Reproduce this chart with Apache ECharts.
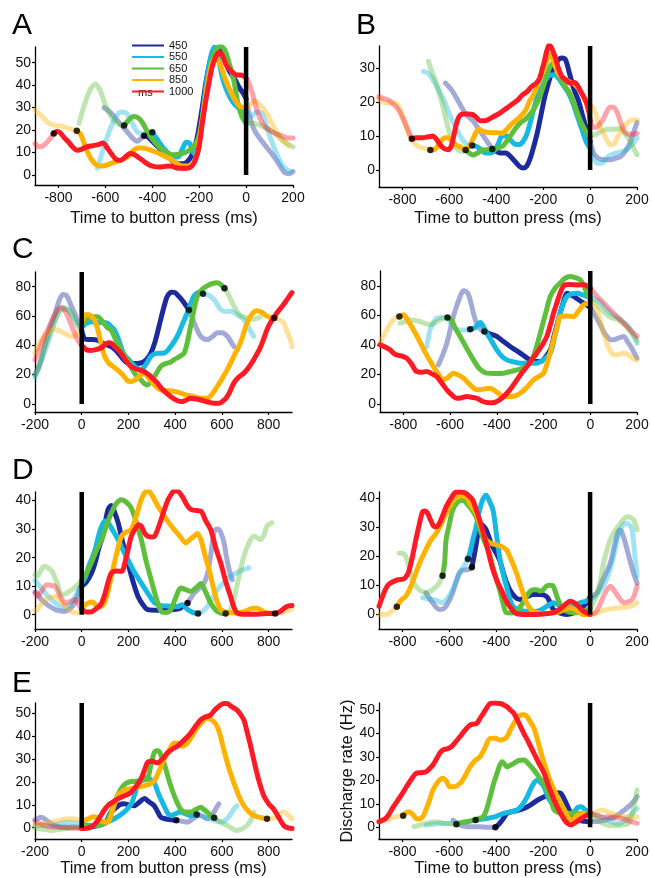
<!DOCTYPE html>
<html><head><meta charset="utf-8">
<script src="https://cdn.jsdelivr.net/npm/echarts@6/dist/echarts.min.js"></script>
<style>html,body{margin:0;padding:0;background:#fff}#c{width:652px;height:878px}</style>
</head><body><div id="c"></div>
<script>
// ---------- tick labels ----------
const ticksToPress = [-800,-600,-400,-200,0,200];
const ticksFromPress = [-200,0,200,400,600,800];
const yTicksA = [0,10,20,30,40,50];
const yTicksB = [0,10,20,30];
const yTicksC = [0,20,40,60,80];
const yTicksD = [0,10,20,30,40];
const yTicksE = [0,10,20,30,40,50];
const durations = ['450','550','650','850','1000'];

// ---------- Panel A ----------
const A_b_pre = [[-605,30],[-580,28],[-555,25],[-530,22],[-505,19],[-485,16.5],[-465,15],[-450,16],[-435,17.5]];
const A_b = [[-435,17.5],[-420,17],[-400,15],[-370,12],[-340,9],[-310,6],[-290,5],[-270,5],[-250,6],[-230,9],[-210,16],[-190,28],[-170,42],[-150,52],[-130,56],[-110,56],[-90,51],[-70,46],[-50,43],[-30,39],[-10,36],[0,34]];
const A_b_post = [[0,34],[15,26],[35,20],[60,16],[90,12],[120,8],[145,4],[165,1],[185,0.5],[200,1.5]];
const A_c_pre = [[-634,3],[-610,11],[-585,19],[-560,25],[-535,28],[-510,27.5],[-490,24],[-470,20],[-450,18.5],[-425,18.5],[-400,19]];
const A_c = [[-400,19],[-380,16],[-360,13],[-335,10],[-310,8],[-290,8],[-270,12],[-255,14.5],[-240,14],[-225,10],[-210,9],[-198,15],[-185,27],[-168,42],[-150,53],[-135,57],[-120,53],[-100,43],[-80,37],[-60,33],[-40,30.5],[-20,29],[0,28]];
const A_c_post = [[0,28],[20,26],[45,28],[70,27],[95,19],[120,12],[145,6],[165,3],[190,1.5]];
const A_g_pre = [[-712,23],[-690,31],[-665,38],[-642,40.5],[-620,37],[-600,31],[-575,26],[-550,23],[-520,22]];
const A_g = [[-520,22],[-500,24.5],[-480,26],[-460,25.5],[-440,23],[-420,19],[-400,16],[-380,13.5],[-360,11.5],[-335,9.8],[-310,9],[-280,9.3],[-250,10.5],[-225,12.5],[-205,16],[-190,23],[-175,33],[-160,43.5],[-145,51],[-130,55.5],[-110,57.5],[-90,55.5],[-70,49],[-52,42],[-35,32],[-18,26],[0,23]];
const A_g_post = [[0,23],[30,23],[60,22],[100,20],[130,18],[160,15],[200,12.5]];
const A_o_pre = [[-900,29],[-870,26],[-840,23],[-810,22],[-780,21.5],[-750,20.5],[-722,19.7]];
const A_o = [[-722,19.7],[-705,18],[-690,14],[-675,10],[-660,7],[-645,5],[-625,4],[-600,4.2],[-575,5.2],[-550,6],[-525,7],[-500,8.5],[-480,11],[-460,12],[-440,12],[-410,11.2],[-380,10],[-350,8.5],[-320,7],[-295,5],[-270,4],[-240,4],[-220,6],[-205,12],[-190,22],[-175,33],[-160,43],[-145,50],[-128,52],[-110,49],[-90,43],[-70,38],[-50,34],[-30,31],[-10,30],[0,30]];
const A_o_post = [[0,30],[15,31],[35,33],[60,31],[85,28],[110,23],[135,18],[160,15],[180,13]];
const A_r_pre = [[-900,14],[-885,12.5],[-865,13],[-845,15],[-830,17],[-820,18.5]];
const A_r = [[-820,18.5],[-805,19.5],[-790,18.5],[-775,16.5],[-760,15],[-740,12.5],[-720,11],[-700,11.5],[-680,12.5],[-655,13],[-630,13.5],[-610,14.2],[-595,12.5],[-575,9.5],[-555,7],[-535,6.5],[-515,8],[-495,9.5],[-475,9],[-455,7.5],[-435,6],[-415,4.5],[-395,3.8],[-370,3.5],[-345,3.8],[-320,4],[-300,3.2],[-275,3],[-250,3],[-230,4],[-215,7],[-200,13],[-188,22],[-175,31],[-160,40],[-145,48],[-130,52.5],[-115,54.5],[-100,53],[-85,49],[-70,47],[-55,45.5],[-40,44.5],[-25,44.5],[-10,44],[0,43]];
const A_r_post = [[0,43],[12,41],[25,37],[40,31],[60,25],[80,21.5],[100,20],[125,18.5],[150,17.5],[175,16.5],[200,16.5]];
const A_dots = [[-820,18.5],[-722,19.7],[-520,22],[-435,17.5],[-400,19]];

// ---------- Panel B ----------
const B_b_pre = [[-617,25.6],[-590,23.5],[-560,20],[-530,16.5],[-500,14.5],[-470,11.5],[-445,9],[-430,7.5],[-417,6.2]];
const B_b = [[-417,6.2],[-400,5.5],[-380,5],[-360,5],[-340,4],[-320,2.5],[-300,1],[-285,0.6],[-270,1.2],[-255,3.5],[-240,7],[-225,11],[-210,16],[-195,21],[-180,25],[-165,28.5],[-150,31],[-135,32.5],[-120,33],[-105,32.5],[-90,29],[-70,24],[-50,20.5],[-30,15.5],[-15,12],[0,8.5]];
const B_b_post = [[0,8.5],[15,5],[35,3.5],[60,3],[85,3],[110,3.5],[130,4],[150,5.5],[170,8],[185,11],[200,14]];
const B_c_pre = [[-710,29],[-690,28.5],[-665,26],[-645,23.5],[-620,20],[-600,16.5],[-580,13.5],[-560,10.8],[-540,8.5],[-520,7.5],[-503,7.2]];
const B_c = [[-503,7.2],[-485,7],[-465,6],[-445,5],[-425,5],[-405,6],[-390,8],[-375,10],[-355,10],[-335,8.5],[-315,7.5],[-300,7.5],[-285,8.5],[-270,10.5],[-255,14],[-240,18],[-225,21.5],[-205,24.5],[-185,27],[-165,28],[-150,28],[-135,27],[-115,25],[-95,23],[-75,20],[-55,16],[-35,12],[-15,8],[0,6.5]];
const B_c_post = [[0,6.5],[15,3.5],[30,2],[50,2],[70,3.5],[90,4.5],[115,5],[140,5.5],[165,6.5],[185,8],[200,9.5]];
const B_g_pre = [[-689,32],[-675,29],[-660,26.5],[-645,23],[-630,19.5],[-615,15],[-600,11],[-585,8],[-570,6.5],[-550,5.5],[-531,5.9]];
const B_g = [[-531,5.9],[-515,5],[-500,4.4],[-480,5],[-460,5.9],[-440,6],[-417,6],[-395,6.5],[-374,7],[-355,8.5],[-335,10.5],[-315,12.5],[-295,14],[-275,15],[-255,16.5],[-235,18.5],[-215,21.5],[-200,24.5],[-185,28],[-170,30.5],[-158,31.5],[-145,30],[-130,27.5],[-110,25],[-90,23],[-74,20.6],[-55,17],[-35,13.5],[-15,11],[0,9.8]];
const B_g_post = [[0,9.8],[25,10.5],[50,11.5],[75,12],[100,12],[126,12.3],[145,11],[169,8.8],[185,6.5],[200,4.5]];
const B_o_pre = [[-900,21],[-874,19.7],[-845,19.8],[-825,19.5],[-803,16.7],[-788,13.5],[-774,10.8],[-760,8.8],[-746,7.6],[-725,6.7],[-703,6.4],[-681,5.9]];
const B_o = [[-681,5.9],[-665,6],[-650,7],[-635,8.5],[-620,9.5],[-605,9.5],[-590,8.5],[-575,7.5],[-560,7],[-545,6.5],[-530,6.2],[-515,7],[-500,9],[-487,11],[-474,12],[-460,11.5],[-446,11.2],[-420,11],[-395,11],[-374,10.8],[-355,12],[-331,13.8],[-300,15.5],[-274,17.7],[-260,20],[-246,21.6],[-230,24],[-217,26.5],[-200,29.5],[-185,32],[-172,34],[-160,33],[-145,30],[-130,28],[-110,27],[-90,26],[-70,25.5],[-50,24],[-30,22],[-15,20],[0,19]];
const B_o_post = [[0,19],[15,18],[35,14],[55,11],[70,9],[85,7.5],[100,7.5],[115,9.5],[135,12],[160,14],[185,14.8],[200,14.7]];
const B_r_pre = [[-900,21.6],[-880,21],[-860,20.6],[-840,19.5],[-817,17.7],[-800,15.5],[-789,13.8],[-775,11.5],[-760,9.2]];
const B_r = [[-760,9.2],[-740,9.5],[-715,9.5],[-690,9.8],[-670,10],[-655,9],[-640,7.5],[-620,6.2],[-603,6],[-590,7.5],[-580,10.5],[-570,13.5],[-558,15.8],[-540,16.5],[-520,16.5],[-500,16.3],[-485,15.5],[-470,14.5],[-450,14.5],[-430,15],[-410,15.8],[-390,16.5],[-370,17.5],[-350,18.5],[-330,19.5],[-310,20.5],[-290,22],[-270,23],[-250,24.5],[-230,25.5],[-215,27],[-205,29.5],[-195,32],[-185,35],[-175,36.8],[-165,36],[-150,33.5],[-135,30],[-120,27.5],[-103,26.5],[-85,25.5],[-70,25.8],[-55,25],[-35,22.5],[-17,20],[-5,17],[0,14.5]];
const B_r_post = [[0,14.5],[12,12.8],[26,12.5],[40,13.5],[54,14.7],[70,17],[85,18.5],[100,18.5],[115,17],[130,14],[145,11.5],[165,10.5],[185,10.5],[200,10.8]];
const B_dots = [[-760,9.2],[-681,5.9],[-531,5.9],[-503,7.2],[-417,6.2]];

// ---------- Panel C (left) ----------
const CL_b_pre = [[-200,20],[-180,27],[-159,39],[-140,50],[-117,60],[-100,69],[-81,74.7],[-65,74],[-48,68],[-31,62],[-15,56],[0,50]];
const CL_b = [[0,50],[12,44.5],[26,43.9],[45,44],[68,43.5],[90,41.5],[110,40],[125,39.3],[150,36],[175,31],[196,27.9],[220,27.5],[253,27.9],[275,30],[296,34.7],[315,43],[338,57.6],[355,68],[367,73.6],[385,76.2],[398,76],[415,73.5],[438,69],[459,64]];
const CL_b_post = [[459,64],[475,58],[490,52],[509,46.2],[537,43.9],[560,46],[580,48.5],[600,48.5],[623,46.2],[640,42],[651,39.3]];
const CL_c_pre = [[-200,18],[-172,30],[-145,41.6],[-122,53],[-102,62],[-88,65],[-74,65.6],[-58,64],[-45,61],[-30,57],[-17,53],[0,52]];
const CL_c = [[0,52],[20,55],[45,56],[68,55.5],[90,55.5],[111,55],[125,53],[139,50.7],[155,45],[170,38],[182,33.5],[200,30.5],[225,26],[253,23.3],[275,27],[296,32.5],[320,34.5],[353,34.7],[380,39],[409,46.2],[430,54],[452,62.2],[468,69],[480,73.6],[495,75.8],[509,76.4],[519,75.2]];
const CL_c_post = [[519,75.2],[540,74.5],[566,71.3],[580,68],[594,64.5],[615,63],[637,63.3],[665,61],[694,57.6],[715,52],[736,46.2]];
const CL_g_pre = [[-200,20],[-188,23],[-160,38],[-131,50.7],[-110,59],[-95,63],[-78,64.5],[-60,64.5],[-40,61],[-17,55],[0,54]];
const CL_g = [[0,54],[20,57.5],[45,59.5],[68,59.5],[90,56],[110,52],[125,50.7],[145,44],[170,36],[196,30.2],[215,24],[235,19],[253,16.5],[268,14],[281,13],[300,16],[320,21],[338,25.6],[360,27.5],[380,28.5],[395,30.2],[420,32.5],[438,34.7],[452,42],[466,53],[480,64],[495,73.6],[515,78],[537,80.5],[560,82.2],[580,82.7],[595,81.5],[611,78.9]];
const CL_g_post = [[611,78.9],[630,74],[651,66.8],[675,61],[708,58.7],[735,57.8],[765,59.4]];
const CL_o_pre = [[-200,35],[-180,42],[-160,46],[-140,49],[-120,51],[-105,50.5],[-85,49],[-65,47.5],[-45,46.2],[-30,46.5],[-17,48.5],[0,55]];
const CL_o = [[0,56],[10,60],[18,61],[35,60.5],[54,57.6],[70,50],[85,40],[97,33],[115,28],[135,25.5],[153,23.3],[175,20],[195,16],[210,15.3],[230,16.5],[250,19.5],[267,21],[285,18],[305,14],[320,11.5],[338,9.6],[370,9],[400,8.5],[424,7.3],[450,6],[480,5],[509,3.9],[537,3.9],[555,6],[580,11.9],[600,17],[625,24],[651,32.5],[680,42],[708,55.3],[730,61.5],[750,63.5],[770,62.5],[793,59.9],[810,59],[824,58.7]];
const CL_o_post = [[824,58.7],[845,57.5],[864,55.3],[880,49],[893,43.9],[900,39]];
const CL_r_pre = [[-200,30],[-180,38],[-160,46],[-145,50.7],[-125,58],[-102,64.5],[-90,65.8],[-81,65.6],[-70,63],[-60,59.9],[-45,54],[-31,48.5],[-15,43],[0,40]];
const CL_r = [[0,40],[20,37],[40,36.5],[60,37],[82,38.2],[100,40.5],[115,41.8],[125,41.6],[145,38.5],[168,34.7],[190,29.5],[210,25.6],[240,23.5],[267,22.2],[290,19.5],[310,16.5],[324,14.2],[345,10],[365,7],[381,5],[400,3],[424,1.6],[445,2.5],[466,3.9],[485,3.5],[509,2.7],[535,1.5],[566,0.5],[590,0.5],[601,1.6],[615,3.5],[630,7],[651,14.2],[670,18],[694,21],[715,25],[736,30.2],[760,37],[778,44],[793,50.7],[810,56],[836,62.2],[860,67],[880,71.5],[900,76]];
const CL_dots = [[459,64],[519,75.2],[611,78.9],[824,58.7]];

// ---------- Panel C (right) ----------
const CR_b_pre = [[-650,26.4],[-632,33],[-614,41.1],[-600,50],[-586,59.2],[-570,67],[-557,72.8],[-543,76.6],[-530,76],[-521,73.9],[-510,68],[-500,61.5],[-490,56],[-479,52.4],[-465,50],[-453,49]];
const CR_b = [[-453,49],[-430,47.5],[-400,45.7],[-370,42],[-343,38.9],[-320,36.5],[-300,34.4],[-270,31],[-243,28.7],[-214,28.7],[-195,31],[-171,36.6],[-155,46],[-140,55],[-129,61.5],[-115,69],[-100,75],[-85,74],[-71,72.8],[-50,70.5],[-29,68.3],[-15,67],[0,65]];
const CR_b_post = [[0,65],[20,60],[43,53.6],[60,48],[71,45.7],[85,43.5],[100,43.4],[120,44.5],[143,45.7],[160,42],[180,37],[200,31]];
const CR_c_pre = [[-700,38.9],[-693,45],[-686,50.2],[-672,55],[-657,58],[-635,58.5],[-614,58],[-592,54],[-571,50.2],[-545,50],[-514,50.6]];
const CR_c = [[-514,50.6],[-495,51.5],[-480,54],[-471,55.1],[-460,53],[-443,47.9],[-420,42],[-400,36.6],[-380,32.5],[-357,29.8],[-330,28.5],[-300,27.6],[-265,27.5],[-229,27.6],[-200,30],[-171,34.4],[-150,47],[-129,61.5],[-115,68],[-100,72.8],[-80,74.5],[-57,75],[-35,74],[-14,72.8],[0,72]];
const CR_c_post = [[0,72],[20,71],[43,69],[70,64],[100,60],[130,57],[160,53],[185,47],[200,41]];
const CR_g_pre = [[-814,54.7],[-790,56],[-771,57],[-750,56.5],[-729,55.8],[-708,54.5],[-686,53.6],[-665,55],[-643,57],[-625,58],[-611,58.5]];
const CR_g = [[-611,58.5],[-595,57],[-580,52],[-557,45.7],[-530,38],[-500,29.8],[-475,24],[-443,20.8],[-410,20.5],[-371,20.8],[-340,22],[-314,23],[-285,24.5],[-257,27.6],[-235,36],[-214,47.9],[-190,62],[-171,72.8],[-150,78.5],[-129,81.8],[-108,85],[-86,86.3],[-65,85.5],[-43,84],[-28,80],[-14,75],[0,70.5]];
const CR_g_post = [[0,70.5],[30,67],[60,62],[90,58.5],[120,57],[150,53],[175,48],[200,43]];
const CR_o_pre = [[-900,41],[-885,46],[-871,50.2],[-857,54],[-843,57],[-830,58.5],[-817,59.2]];
const CR_o = [[-817,59.2],[-800,60.3],[-782,57],[-760,51],[-729,42],[-700,33],[-671,25.3],[-650,20],[-629,16.3],[-608,18],[-586,20.8],[-565,19.5],[-543,17.4],[-515,13],[-486,9.5],[-458,10],[-429,10.6],[-405,8.5],[-386,6.1],[-365,4.8],[-343,5],[-321,5.5],[-300,7.2],[-270,11.5],[-243,16.3],[-220,18.5],[-200,20.8],[-180,30],[-157,43.4],[-140,53],[-129,59.2],[-100,59.5],[-71,59.2],[-50,63],[-29,67.1],[-10,68],[0,67.8]];
const CR_o_post = [[0,67.8],[15,65.5],[29,63.7],[50,52],[71,41],[85,36],[100,33.2],[120,33.5],[143,34.4],[170,32.5],[185,30.5],[200,29.8]];
const CR_r = [[-900,40],[-878,38.5],[-857,36.6],[-843,34.5],[-829,33.2],[-808,32.5],[-786,31],[-765,27],[-743,21.9],[-720,21.5],[-700,21.9],[-680,20.5],[-657,18.5],[-635,14],[-614,9.5],[-592,6],[-571,3.8],[-550,4.2],[-529,5],[-508,4.5],[-486,3.8],[-465,2],[-443,0.9],[-420,0.7],[-400,1.6],[-378,4],[-357,7.2],[-335,11.5],[-314,16.3],[-293,21],[-271,25.3],[-250,30],[-229,34.4],[-207,39.5],[-186,45.7],[-170,54],[-157,61.5],[-143,68.5],[-129,75],[-118,79],[-107,80.7],[-90,80.8],[-71,80.7],[-50,80.5],[-29,80.7],[-15,80],[0,78.4]];
const CR_r_post = [[0,78.4],[15,75.5],[29,72.8],[50,69.5],[71,66],[92,62.5],[114,59.2],[135,56],[157,52.4],[178,49],[200,45.7]];
const CR_dots = [[-817,59.2],[-611,58.5],[-514,50.6],[-453,49]];

// ---------- Panel D (left) ----------
const DL_b_pre = [[-200,8],[-191,7.6],[-175,5.5],[-156,4.1],[-135,2.8],[-113,1.8],[-90,1.3],[-71,1.2],[-52,2],[-35,3.5],[-20,6],[-7,9.4],[0,10]];
const DL_b = [[0,10],[20,11.5],[42,14.6],[60,19],[72,23],[85,26.3],[100,32],[113,36.9],[127,38.3],[140,36],[156,32.2],[175,25.5],[198,18.1],[220,11.5],[241,6.4],[262,3.5],[283,1.8],[320,1.6],[360,1.6],[396,1.8],[420,2.2],[432,2.9],[445,3.5],[453,4.1]];
const DL_b_post = [[453,4.1],[468,6],[481,7.6],[500,9],[524,11.1],[540,15],[552,21],[566,28.7],[577,30],[588,29.8],[599,28],[609,25.2],[620,20],[632,15.5],[644,12.3]];
const DL_c_pre = [[-200,12],[-191,11.1],[-175,9.5],[-156,7.6],[-135,5.8],[-113,4.1],[-92,3],[-71,2.3],[-50,3.5],[-28,6.4],[-12,9],[0,11]];
const DL_c = [[0,11],[15,13],[30,17],[45,20],[57,22.8],[70,27],[85,31],[100,32.8],[113,32.2],[130,30],[156,26.3],[175,23],[198,19.3],[225,15],[255,11.1],[283,7.5],[312,4.1],[340,3.2],[380,3],[411,2.9],[430,3.5],[453,1.8],[475,0.8],[498,0.4]];
const DL_c_post = [[498,0.4],[515,1],[538,2.9],[560,6],[581,8.8],[610,11.5],[637,13.5],[665,14.8],[694,15.8],[715,16.4]];
const DL_g_pre = [[-200,14],[-191,13.5],[-175,15.5],[-160,17],[-145,16.5],[-127,15.2],[-105,11],[-85,7],[-65,7.5],[-42,8.8],[-20,10.3],[0,12]];
const DL_g = [[0,12],[20,14.5],[40,18],[60,22],[85,26.3],[105,31],[127,35.7],[148,39],[170,40.3],[190,39.5],[212,37.4],[235,32],[255,26.3],[275,19],[297,12.3],[318,6],[340,1.2],[360,0.8],[382,1.8],[400,5.5],[425,9.4],[445,8.8],[467,8.2],[490,9.5],[510,10.9],[530,8],[552,4.1],[575,1.5],[595,0.6],[616,0.4]];
const DL_g_post = [[616,0.4],[635,1.5],[651,5.3],[672,13],[694,20.5],[715,25],[736,27.5],[750,27],[765,26.3],[780,28],[793,31],[814,32.2]];
const DL_o_pre = [[-200,1.5],[-191,1.8],[-175,3.5],[-156,5.3],[-135,6],[-113,6.4],[-92,5],[-71,2.9],[-50,1.5],[-28,0.6],[-12,0.8],[0,2]];
const DL_o = [[0,2],[15,3.5],[28,4.1],[45,4.5],[60,3.5],[85,2.9],[105,6],[127,13.5],[148,21],[170,27.5],[190,29],[212,29.8],[235,35],[255,40.4],[270,42.8],[283,43.5],[300,42],[326,38],[350,35],[375,32],[396,29.8],[420,27.5],[446,25.2],[465,26.5],[481,27.5],[495,28.5],[510,26.3],[527,21],[545,15.8],[565,9],[580,4.5],[595,1.8],[620,0.8],[651,0.6],[680,0.8],[710,1.5],[730,2.3],[750,2.3],[770,1.5],[793,0.6],[828,0.4]];
const DL_o_post = [[828,0.4],[850,0.6],[875,1.2],[900,2]];
const DL_r_pre = [[-200,7.5],[-191,6.4],[-170,8.5],[-155,10.3],[-142,10.5],[-128,10.2],[-113,9.9],[-92,6.5],[-71,4.1],[-50,4.6],[-28,5.3],[-12,3.5],[0,2]];
const DL_r = [[0,2],[20,1],[40,1],[60,2],[75,3],[85,4],[100,7.5],[113,11.5],[127,14.6],[148,15.3],[170,15.2],[190,20],[212,27.5],[232,30.5],[245,31.5],[255,31],[270,28.5],[283,27.5],[300,27.2],[312,27.5],[330,31],[354,36.9],[368,40],[382,42.1],[397,43.4],[411,43.3],[430,41.5],[450,38.5],[467,36.9],[490,36.5],[510,36.3],[530,33],[552,29.8],[575,23],[595,18.1],[615,12],[637,6.4],[652,2.5],[665,0.6],[690,0.2],[750,0.2],[793,0.4],[828,0.4],[850,1.2],[878,2.9],[900,3.2]];
const DL_dots = [[453,4.1],[498,0.4],[616,0.4],[828,0.4]];

// ---------- Panel D (right) ----------
const DR_b_pre = [[-700,7.4],[-685,5.5],[-671,4],[-657,2.5],[-643,1.7],[-628,1.8],[-614,2.8],[-600,4.8],[-586,7.4],[-572,11],[-557,14.2],[-543,15.2],[-529,15.3],[-515,15.5],[-504,16.2]];
const DR_b = [[-504,16.2],[-490,22],[-480,27],[-471,31.2],[-457,30.5],[-443,29],[-420,24],[-400,21],[-386,18.7],[-365,13],[-343,8.5],[-320,6],[-300,5.1],[-270,6],[-243,6.8],[-215,6.8],[-186,6.2],[-170,4],[-157,1.7],[-130,0.5],[-100,0],[-70,0.5],[-50,1.5],[-29,2.8],[-15,4],[0,6]];
const DR_b_post = [[0,6],[29,7.4],[55,12],[86,17.6],[105,24],[120,28.5],[129,29],[145,26],[165,20],[186,14],[200,10.8]];
const DR_c_pre = [[-714,5.7],[-693,5.4],[-671,5.1],[-650,4.6],[-629,4],[-608,5.5],[-586,8.5],[-572,11],[-557,14.2],[-543,16],[-529,17.6],[-521,19]];
const DR_c = [[-521,19],[-510,22],[-500,25.6],[-486,30],[-471,35.8],[-457,39.5],[-443,40.9],[-430,39],[-414,35.8],[-400,28],[-386,19.9],[-371,14],[-357,9.7],[-343,5.5],[-329,2.8],[-300,1.5],[-260,1],[-220,1.2],[-190,2.5],[-170,3.5],[-157,4],[-140,3.5],[-120,2.5],[-100,2.3],[-70,3],[-43,4],[-20,4.5],[0,5.1]];
const DR_c_post = [[0,5.1],[25,6.5],[50,9],[75,13],[100,19.9],[115,25.5],[129,29],[145,31],[157,31.2],[170,30.5],[179,29],[190,21],[200,13.1]];
const DR_g_pre = [[-814,21],[-800,21],[-786,19.9],[-771,16],[-757,11.9],[-743,9.8],[-729,8.5],[-714,7.8],[-700,7.4],[-686,7.8],[-671,8.5],[-657,9.5],[-643,10.8],[-629,13.3]];
const DR_g = [[-629,13.3],[-620,18],[-614,25.6],[-600,31],[-586,35.8],[-565,38.5],[-543,39.2],[-525,38],[-505,36],[-486,33.5],[-465,28],[-450,25],[-429,21],[-410,15],[-386,8.5],[-370,3.5],[-357,0.6],[-335,0.5],[-314,1.1],[-290,3.5],[-271,6.2],[-257,7.8],[-243,8.5],[-228,8.5],[-214,8],[-200,8.5],[-186,9.7],[-170,10],[-157,9.7],[-143,6.5],[-128,3.5],[-114,1.7],[-90,0.8],[-60,0.6],[-30,1],[0,2]];
const DR_g_post = [[0,2],[20,5],[40,10],[57,17.6],[70,21.5],[86,25.6],[105,28.5],[129,31.2],[145,32.8],[157,33.5],[170,33.3],[186,32.4],[195,30.5],[200,29]];
const DR_o_pre = [[-900,0],[-880,0],[-864,0],[-850,0.8],[-836,1.7],[-824,2.6]];
const DR_o = [[-824,2.6],[-805,5],[-786,6.2],[-765,9.5],[-743,14.2],[-722,18.5],[-700,22.2],[-680,25.3],[-657,27.8],[-635,31],[-614,34.7],[-592,37.8],[-571,40.3],[-550,40.7],[-529,40.3],[-508,37.5],[-486,34.7],[-465,30],[-443,25.6],[-420,24.3],[-400,23.9],[-378,23.3],[-357,22.2],[-335,18.5],[-314,14.2],[-293,9],[-271,4],[-250,1.5],[-229,0.6],[-200,0.3],[-160,0.5],[-130,1],[-110,1.8],[-86,2.3],[-60,1.5],[-29,0],[0,0]];
const DR_o_post = [[0,0],[30,0.5],[60,1.5],[100,2],[150,2.5],[180,3],[200,4]];
const DR_r = [[-900,2.8],[-879,7.4],[-864,9.8],[-850,10.8],[-821,11.9],[-793,12.2],[-780,13.5],[-771,15.3],[-757,20],[-743,25.6],[-728,31],[-714,35.2],[-703,35.5],[-693,34.7],[-678,32],[-664,30.1],[-653,30.2],[-643,31.2],[-628,34],[-614,36.9],[-592,40],[-571,42],[-550,42],[-529,41.5],[-515,40.5],[-500,39.2],[-486,36],[-471,32.4],[-457,28.5],[-443,24.4],[-428,19.5],[-414,15.3],[-397,11.5],[-379,8.5],[-360,5],[-343,2.8],[-314,0.3],[-270,0],[-229,0],[-190,0.2],[-157,0.6],[-135,1.5],[-114,2.8],[-100,3.8],[-86,4.5],[-72,4.2],[-57,3.4],[-43,2.2],[-29,1.1],[0,0]];
const DR_r_post = [[0,0],[20,0.5],[40,3],[57,6.2],[72,8.5],[86,9.7],[100,8.5],[114,6.8],[128,5.2],[143,4],[160,4.3],[179,5.1],[190,7],[200,9.7]];
const DR_dots = [[-824,2.6],[-629,13.3],[-521,19],[-504,16.2]];

// ---------- Panel E (left) ----------
const EL_b_pre = [[-200,3.5],[-185,4.2],[-173,4.6],[-155,3.5],[-131,1.7],[-110,0.8],[-88,0.3],[-60,0.2],[-31,0.3],[0,0]];
const EL_b = [[0,0],[25,0.2],[50,0.5],[75,1],[100,2],[112,4],[125,6.8],[150,9],[165,10.2],[182,10.4],[200,10],[224,9.6],[245,11],[260,12.3],[270,12.8],[285,11.5],[300,10.5],[310,9.6],[325,7],[338,4.6],[360,3.8],[381,3.5],[405,3.2]];
const EL_b_post = [[405,3.2],[430,2.8],[452,2.4],[475,3.8],[495,5.2],[509,5.3],[525,4.5],[537,3.9],[552,4.8],[566,6.8],[577,8.8],[587,10.4]];
const EL_c_pre = [[-200,1],[-160,1],[-131,1],[-95,1.7],[-60,2.4],[-30,2.2],[0,1.7]];
const EL_c = [[0,1.7],[30,1],[60,1],[90,1.5],[115,2.7],[139,3.9],[165,5.5],[196,8.2],[215,11],[228,15],[239,18.3],[255,20.5],[268,21.8],[281,21.9],[295,21],[310,19.7],[330,14.5],[352,9.6],[367,6.5],[381,5.3],[400,6],[423,6.8],[445,6],[466,5.3],[480,5.3],[492,5.8]];
const EL_c_post = [[492,5.8],[510,5.3],[530,4.5],[555,3.6],[580,2.8],[600,2.5],[622,3.9],[638,6],[651,8.2],[665,9.6]];
const EL_g_pre = [[-200,-0.2],[-160,-0.8],[-131,-1.2],[-95,-0.8],[-60,-0.4],[-30,0],[0,0.3]];
const EL_g = [[0,0.3],[30,0.7],[60,1],[90,1.5],[110,3],[130,8],[153,14],[175,18],[196,19.7],[218,20.2],[239,20.4],[260,20.8],[281,21.2],[295,27],[310,32.7],[322,33.6],[331,33.4],[342,31],[352,28.4],[367,23],[381,18.3],[400,13],[423,8.2],[445,6.8],[466,6.8],[485,7.8],[500,8.5],[509,8.9],[522,8],[537,6.8],[552,5.3],[567,4.3]];
const EL_g_post = [[567,4.3],[585,3],[605,1.8],[622,1],[645,-0.5],[665,-1.2],[687,-0.5],[708,1],[725,3.5],[736,6.8]];
const EL_o_pre = [[-200,1],[-160,1.8],[-131,2.4],[-95,3.2],[-60,3.9],[-30,3.8],[0,3.2]];
const EL_o = [[0,3.2],[20,3.5],[40,4.5],[54,4.8],[70,4],[90,2.6],[111,2.4],[130,7],[153,14],[175,16],[196,16.8],[230,17.5],[267,18.3],[290,19],[310,20.4],[330,24.5],[352,29.8],[375,34],[395,37],[413,36.8],[431,35.6],[452,37],[475,40.5],[494,43.5],[515,46.2],[537,47.8],[558,47],[580,44.2],[595,39.5],[608,34.1],[630,26],[651,19.7],[672,14],[694,9.6],[715,7],[736,5.3],[760,4.5],[793,3.9]];
const EL_o_post = [[793,3.9],[815,4],[836,4.6],[850,6.2],[864,6.8],[880,5.8],[900,3.9]];
const EL_r_pre = [[-200,2.8],[-180,1.8],[-159,1],[-140,0.5],[-117,0.3],[-90,0.1],[-60,0],[-30,-0.2],[0,-0.4]];
const EL_r = [[0,-0.4],[20,-0.3],[40,0.3],[60,2],[80,5],[95,7.5],[111,9.6],[130,11],[153,12.5],[180,13.8],[210,15.4],[232,18],[253,21.2],[268,25],[281,28.4],[300,29],[324,28.4],[345,30],[367,32.7],[390,34.5],[409,35.6],[430,37.5],[450,39.5],[466,41.3],[488,44.5],[509,47.1],[530,48.5],[551,49.2],[570,51.5],[594,53.6],[610,54.3],[622,54.3],[640,53],[665,51.4],[680,49.5],[694,47.1],[705,43],[720,37],[736,29.8],[757,21],[779,14],[800,10.5],[821,8.2],[843,4.5],[864,1],[880,0],[900,-0.4]];
const EL_dots = [[405,3.2],[492,5.8],[567,4.3],[793,3.9]];

// ---------- Panel E (right) ----------
const ER_b_pre = [[-584,3.1],[-570,2],[-555,1],[-535,0.5],[-512,0.3],[-490,0.3],[-469,0.3],[-440,0],[-404,0]];
const ER_b = [[-404,0],[-390,1.2],[-375,3],[-354,6],[-330,6.8],[-310,7.2],[-282,8.1],[-255,9.5],[-224,11.6],[-200,12.8],[-175,14],[-153,14.5],[-135,14.8],[-124,14.5],[-110,12],[-95,8.8],[-80,5.5],[-66,3.8],[-45,3],[-25,2.6],[-9,2.4],[0,2.5]];
const ER_b_post = [[0,2.5],[30,2.5],[60,3],[85,3.8],[106,4.5],[135,6.5],[164,8.8],[185,11],[200,13.1]];
const ER_c_pre = [[-699,1],[-670,1.3],[-642,1.7],[-613,1.7],[-584,1.7],[-555,2],[-527,2.4],[-505,2.8],[-488,3.1]];
const ER_c = [[-488,3.1],[-460,3.5],[-430,4],[-400,4.7],[-368,6],[-340,6.6],[-311,7.4],[-290,9.5],[-268,13.1],[-250,17],[-235,19.5],[-224,20.2],[-210,19],[-196,17.3],[-180,13],[-165,10.5],[-153,8.8],[-130,6.3],[-109,4.5],[-90,5.2],[-70,6.5],[-52,8.5],[-37,8.8],[-22,7.5],[-9,6.7],[0,6.2]];
const ER_c_post = [[0,6.2],[30,5.2],[60,4],[90,2.5],[120,1.5],[150,3],[175,5.5],[200,8]];
const ER_g_pre = [[-750,0.3],[-725,1],[-699,1.7],[-678,2.1],[-656,2.4],[-635,2],[-613,1.7],[-598,1.7],[-584,1.5],[-570,1.3]];
const ER_g = [[-570,1.3],[-550,2],[-520,2.5],[-490,3.2],[-470,4],[-455,4.5],[-440,8],[-426,13.1],[-412,18.5],[-397,23],[-385,26.5],[-375,28],[-365,27],[-354,25.8],[-340,26.5],[-325,27.3],[-305,28.5],[-282,28.7],[-262,27],[-239,24.4],[-218,21.5],[-196,18.7],[-180,15],[-167,11.6],[-153,7.4],[-135,6.3],[-110,6],[-81,6],[-55,6],[-30,5.6],[0,5.2]];
const ER_g_post = [[0,5.2],[25,3.5],[50,2],[75,1],[106,0.8],[135,1],[164,1.7],[180,6],[192,11],[200,15.9]];
const ER_o_pre = [[-900,2.4],[-872,3.1],[-850,3.8],[-829,4.5],[-810,4.8],[-797,5]];
const ER_o = [[-797,5],[-785,6.2],[-771,6.7],[-756,5.5],[-742,3.8],[-728,3.6],[-714,4.5],[-700,7.5],[-685,11.5],[-670,15.9],[-648,19.5],[-627,20.9],[-612,19.5],[-598,17.3],[-580,17.3],[-555,18.7],[-535,21.5],[-512,25.8],[-490,28.5],[-469,30.1],[-450,33.5],[-426,37.9],[-405,38],[-383,37.2],[-368,37.5],[-354,38.6],[-340,41.5],[-325,44.3],[-310,46.5],[-296,47.9],[-280,48],[-268,47.1],[-255,45],[-239,42.2],[-218,35],[-196,27.3],[-175,21],[-153,15.9],[-130,11],[-109,7.4],[-95,4.5],[-81,3.1],[-60,4.6],[-37,6],[-15,5.8],[0,5.6]];
const ER_o_post = [[0,5.6],[25,6.5],[49,7.4],[70,6.8],[92,6],[120,5],[150,4.5],[175,4.3],[200,4.5]];
const ER_r = [[-900,2.4],[-872,3.8],[-858,5.5],[-843,8.1],[-822,11.2],[-800,14.5],[-782,17.5],[-764,20.2],[-742,23],[-720,23.3],[-699,23.7],[-685,25],[-670,26.6],[-656,29],[-642,31.5],[-627,33],[-613,33.4],[-598,34],[-584,35.1],[-570,36.8],[-555,38.6],[-534,41.3],[-512,43.6],[-497,44],[-483,44.3],[-469,46.5],[-455,48.6],[-440,51],[-426,52.8],[-405,53],[-383,52.8],[-368,52.2],[-354,51.4],[-340,50],[-325,48.6],[-304,44.5],[-282,40],[-260,35.8],[-239,31.5],[-218,27.3],[-196,23],[-175,17],[-153,11.6],[-131,7],[-109,3.1],[-95,1.6],[-81,1],[-60,2.2],[-37,3.8],[-18,5],[0,6]];
const ER_r_post = [[0,6],[30,5],[55,4.3],[78,4.5],[105,4.2],[135,3.8],[165,2.8],[200,1.7]];
const ER_dots = [[-797,5],[-570,1.3],[-488,3.1],[-404,0]];

// ---------- assembling ----------
const FONT = '"Liberation Sans", Arial, Helvetica, sans-serif';
const COLORS = {b:'#1c2b9c', c:'#16b9e2', g:'#5ebf3c', o:'#ffb300', r:'#ff1a26'};
const NAMES = {b:'450', c:'550', g:'650', o:'850', r:'1000'};

const panels = [
  {grid:{left:35,top:47,width:258,height:138}, x:[-900,200], y:[-4.5,57], xt:ticksToPress, yt:yTicksA, xname:'Time to button press (ms)', xgap:25,
   lines:{b:[A_b_pre,A_b,A_b_post], c:[A_c_pre,A_c,A_c_post], g:[A_g_pre,A_g,A_g_post], o:[A_o_pre,A_o,A_o_post], r:[A_r_pre,A_r,A_r_post]}, dots:A_dots},
  {grid:{left:379,top:46,width:258,height:141}, x:[-900,200], y:[-5,36.5], xt:ticksToPress, yt:yTicksB, xname:'Time to button press (ms)', xgap:23,
   lines:{b:[B_b_pre,B_b,B_b_post], c:[B_c_pre,B_c,B_c_post], g:[B_g_pre,B_g,B_g_post], o:[B_o_pre,B_o,B_o_post], r:[B_r_pre,B_r,B_r_post]}, dots:B_dots},
  {grid:{left:35,top:272,width:257,height:140}, x:[-200,900], y:[-5.5,90], xt:ticksFromPress, yt:yTicksC,
   lines:{b:[CL_b_pre,CL_b,CL_b_post], c:[CL_c_pre,CL_c,CL_c_post], g:[CL_g_pre,CL_g,CL_g_post], o:[CL_o_pre,CL_o,CL_o_post], r:[CL_r_pre,CL_r,null]}, dots:CL_dots},
  {grid:{left:380,top:271,width:257,height:141}, x:[-900,200], y:[-5.5,90], xt:ticksToPress, yt:yTicksC,
   lines:{b:[CR_b_pre,CR_b,CR_b_post], c:[CR_c_pre,CR_c,CR_c_post], g:[CR_g_pre,CR_g,CR_g_post], o:[CR_o_pre,CR_o,CR_o_post], r:[null,CR_r,CR_r_post]}, dots:CR_dots},
  {grid:{left:35,top:492,width:257,height:137}, x:[-200,900], y:[-5,43], xt:ticksFromPress, yt:yTicksD,
   lines:{b:[DL_b_pre,DL_b,DL_b_post], c:[DL_c_pre,DL_c,DL_c_post], g:[DL_g_pre,DL_g,DL_g_post], o:[DL_o_pre,DL_o,DL_o_post], r:[DL_r_pre,DL_r,null]}, dots:DL_dots},
  {grid:{left:379,top:492,width:258,height:137}, x:[-900,200], y:[-5,42], xt:ticksToPress, yt:yTicksD,
   lines:{b:[DR_b_pre,DR_b,DR_b_post], c:[DR_c_pre,DR_c,DR_c_post], g:[DR_g_pre,DR_g,DR_g_post], o:[DR_o_pre,DR_o,DR_o_post], r:[null,DR_r,DR_r_post]}, dots:DR_dots},
  {grid:{left:35,top:703,width:257,height:138}, x:[-200,900], y:[-5,54.5], xt:ticksFromPress, yt:yTicksE, xname:'Time from button press (ms)', xgap:19,
   lines:{b:[EL_b_pre,EL_b,EL_b_post], c:[EL_c_pre,EL_c,EL_c_post], g:[EL_g_pre,EL_g,EL_g_post], o:[EL_o_pre,EL_o,EL_o_post], r:[EL_r_pre,EL_r,null]}, dots:EL_dots},
  {grid:{left:379,top:703,width:258,height:137}, x:[-900,200], y:[-5,53], xt:ticksToPress, yt:yTicksE, xname:'Time to button press (ms)', xgap:20, yname:'Discharge rate (Hz)',
   lines:{b:[ER_b_pre,ER_b,ER_b_post], c:[ER_c_pre,ER_c,ER_c_post], g:[ER_g_pre,ER_g,ER_g_post], o:[ER_o_pre,ER_o,ER_o_post], r:[null,ER_r,ER_r_post]}, dots:ER_dots}
];

const grids = [], xAxes = [], yAxes = [], series = [];
const axisCommon = (ticks, margin) => ({
  axisLine:{show:true, onZero:false, lineStyle:{color:'#000', width:1.3}},
  axisTick:{show:true, length:3, customValues:ticks, lineStyle:{color:'#000', width:1.2}},
  axisLabel:{customValues:ticks, fontSize:14, color:'#111', margin:margin, fontFamily:FONT},
  splitLine:{show:false}
});
panels.forEach((p, gi) => {
  grids.push(Object.assign({}, p.grid));
  const xa = Object.assign({gridIndex:gi, type:'value', min:p.x[0], max:p.x[1]}, axisCommon(p.xt, 6));
  if (p.xname) Object.assign(xa, {name:p.xname, nameLocation:'middle', nameGap:p.xgap, nameTextStyle:{fontSize:16.5, color:'#111', fontFamily:FONT, verticalAlign:'top'}});
  xAxes.push(xa);
  const ya = Object.assign({gridIndex:gi, type:'value', min:p.y[0], max:p.y[1]}, axisCommon(p.yt, 4));
  if (p.yname) Object.assign(ya, {name:p.yname, nameLocation:'middle', nameGap:20, nameTextStyle:{fontSize:16.5, color:'#111', fontFamily:FONT}});
  yAxes.push(ya);
  const keys = ['b','c','g','o','r'];
  keys.forEach(k => {
    [p.lines[k][0], p.lines[k][2]].forEach(seg => {
      if (!seg) return;
      series.push({type:'line', name:NAMES[k]+' faded', xAxisIndex:gi, yAxisIndex:gi, data:seg, smooth:0.3, symbol:'none', z:2,
        lineStyle:{color:COLORS[k], width:5, opacity:0.4, cap:'round'}, itemStyle:{color:COLORS[k]}, silent:true});
    });
  });
  keys.forEach(k => {
    series.push({type:'line', name:NAMES[k], xAxisIndex:gi, yAxisIndex:gi, data:p.lines[k][1], smooth:0.3, symbol:'none', z:3,
      lineStyle:{color:COLORS[k], width:5, cap:'round'}, itemStyle:{color:COLORS[k]}});
  });
  series.push({type:'line', name:'press', xAxisIndex:gi, yAxisIndex:gi, data:[[0,0],[0,p.y[1]]], symbol:'none', z:4,
    lineStyle:{color:'#000', width:4.5}, silent:true});
  series.push({type:'scatter', name:'onset', xAxisIndex:gi, yAxisIndex:gi, data:p.dots, symbolSize:6.5, z:5,
    itemStyle:{color:'#000'}, silent:true});
});

const letters = [['A',12,26],['B',356,26],['C',12,250],['D',12,471],['E',12,684]];
const graphic = letters.map(([t,x,y]) => ({type:'text', left:x, top:y-15, style:{text:t, fontSize:30, fontFamily:FONT, fill:'#000'}}));
graphic.push({type:'text', left:138, top:87, style:{text:'ms', fontSize:11, fontFamily:FONT, fill:'#111'}});

const chart = echarts.init(document.getElementById('c'), null, {renderer:'canvas'});
chart.setOption({
  animation:false,
  backgroundColor:'#fff',
  grid:grids, xAxis:xAxes, yAxis:yAxes, series:series,
  legend:{data:durations, orient:'vertical', left:127, top:35, icon:'rect', itemWidth:32, itemHeight:2, itemGap:0.5, selectedMode:false,
    textStyle:{fontSize:11, lineHeight:11, color:'#111', fontFamily:FONT}},
  graphic:graphic
});
</script></body></html>
